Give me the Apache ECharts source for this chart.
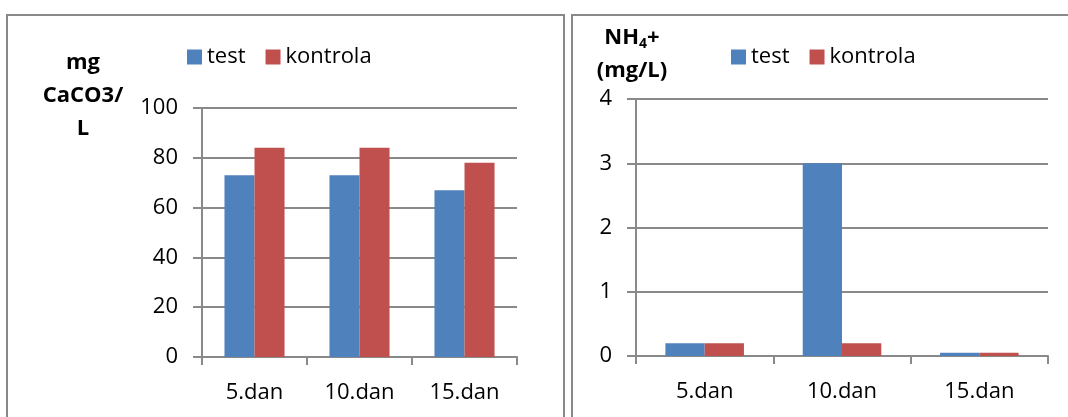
<!DOCTYPE html>
<html>
<head>
<meta charset="utf-8">
<script src="https://cdn.jsdelivr.net/npm/echarts@6/dist/echarts.min.js"></script>
<style>
html,body{margin:0;padding:0;background:#fff;}
#c{width:1068px;height:417px;}
</style>
</head>
<body>
<div id="c"></div>
<script>
const categories = ['5.dan', '10.dan', '15.dan'];
const seriesNames = ['test', 'kontrola'];
const caTest = [73, 73, 67];
const caKontrola = [84, 84, 78];
const nhTest = [0.2, 3.0, 0.05];
const nhKontrola = [0.2, 0.2, 0.05];
const caTicks = [0, 20, 40, 60, 80, 100];
const nhTicks = [0, 1, 2, 3, 4];

const FONT = '"Open Sans", "Noto Sans", sans-serif';
const GRAY = '#898989';
const BLUE = '#4F81BD';
const RED = '#C0504D';
const FS = 22;

const chart = echarts.init(document.getElementById('c'), null, {renderer: 'canvas'});

function catAxis(gi) {
  return {
    type: 'category', gridIndex: gi, data: categories,
    axisLine: {show: true, lineStyle: {color: GRAY, width: 2}},
    axisTick: {show: true, length: 8, lineStyle: {color: GRAY, width: 2}},
    axisLabel: {fontFamily: FONT, fontSize: FS, color: '#000', margin: 25}
  };
}
function valAxis(gi, ticks) {
  return {
    type: 'value', gridIndex: gi,
    min: ticks[0], max: ticks[ticks.length - 1], interval: ticks[1] - ticks[0],
    axisLine: {show: true, lineStyle: {color: GRAY, width: 2}},
    axisTick: {show: true, length: 9, lineStyle: {color: GRAY, width: 2}},
    splitLine: {show: true, lineStyle: {color: GRAY, width: 2}},
    axisLabel: {fontFamily: FONT, fontSize: FS, color: '#000', margin: 24}
  };
}
function bar(name, data, gi, color) {
  return {
    name: name, type: 'bar', xAxisIndex: gi, yAxisIndex: gi, data: data,
    barWidth: '28.6%', barGap: '0%',
    itemStyle: {color: color},
    animation: false
  };
}
const legendCommon = {
  orient: 'horizontal', icon: 'rect', itemWidth: 15, itemHeight: 15, itemGap: 20,
  padding: 0,
  textStyle: {fontFamily: FONT, fontSize: FS, color: '#000', padding: [0, 0, 0, 0]},
  data: seriesNames, selectedMode: false
};

chart.setOption({
  animation: false,
  grid: [
    {left: 202, top: 108, width: 315, height: 249},
    {left: 636, top: 99, width: 412, height: 257}
  ],
  xAxis: [catAxis(0), catAxis(1)],
  yAxis: [valAxis(0, caTicks), valAxis(1, nhTicks)],
  legend: [
    Object.assign({left: 187, top: 46}, legendCommon),
    Object.assign({left: 731, top: 46}, legendCommon)
  ],
  series: [
    bar(seriesNames[0], caTest, 0, BLUE),
    bar(seriesNames[1], caKontrola, 0, RED),
    bar(seriesNames[0], nhTest, 1, BLUE),
    bar(seriesNames[1], nhKontrola, 1, RED)
  ],
  graphic: [
    {type: 'rect', silent: true, shape: {x: 7, y: 15, width: 557, height: 420},
     style: {fill: 'none', stroke: GRAY, lineWidth: 2}},
    {type: 'rect', silent: true, shape: {x: 572, y: 15, width: 520, height: 420},
     style: {fill: 'none', stroke: GRAY, lineWidth: 2}},
    {type: 'text', silent: true, x: 83, y: 46,
     style: {text: 'mg\nCaCO3/\nL', align: 'center', verticalAlign: 'top',
             fontFamily: FONT, fontWeight: 'bold', fontSize: 22, lineHeight: 33, fill: '#000'}},
    {type: 'text', silent: true, x: 632, y: 21,
     style: {text: '{b|NH}{s|4}{b|+}\n{b|(mg/L)}', align: 'center', verticalAlign: 'top',
             fontFamily: FONT, fontWeight: 'bold', fontSize: 22, lineHeight: 33, fill: '#000',
             rich: {
               b: {fontFamily: FONT, fontWeight: 'bold', fontSize: 22, lineHeight: 33, fill: '#000'},
               s: {fontFamily: FONT, fontWeight: 'bold', fontSize: 14, lineHeight: 33, padding: [14, 0, 0, 0], fill: '#000'}
             }}}
  ]
});
</script>
</body>
</html>
